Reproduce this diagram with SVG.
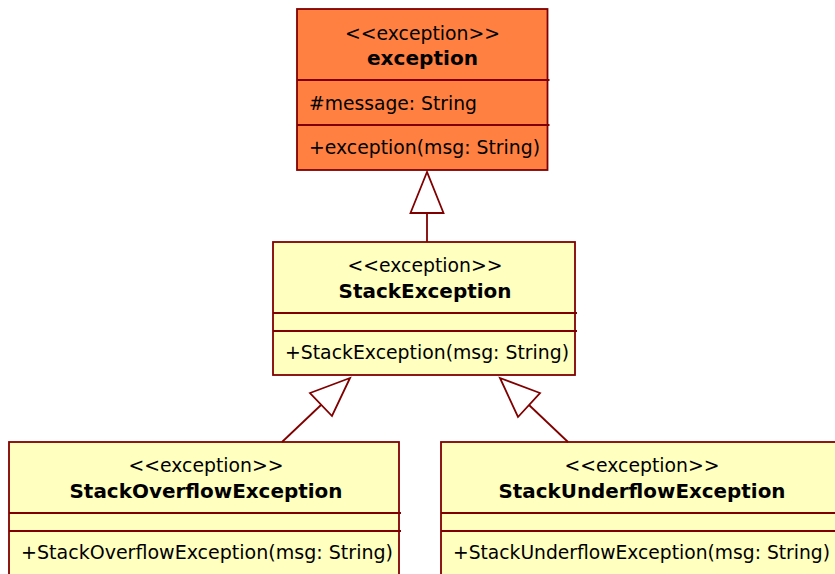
<svg xmlns="http://www.w3.org/2000/svg" width="835" height="574" viewBox="0 0 835 574">
<style>
.box{stroke:#800000;stroke-width:1.8}
.org{fill:#FF8040}
.yel{fill:#FFFFC0}
.sep{stroke:#800000;stroke-width:1.8}
text{font-family:"DejaVu Sans",Verdana,sans-serif;font-size:19.5px;fill:#000}
.c{text-anchor:middle}
.b{font-weight:bold}
.conn line{stroke:#800000;stroke-width:1.8}
.conn polygon{fill:#fff;stroke:#800000;stroke-width:1.8}
</style>
<rect width="835" height="574" fill="#fff"/>
<g id="exception">
<rect class="box org" x="297" y="9" width="250.5" height="161"/>
<line class="sep" x1="297" y1="80" x2="549.5" y2="80"/>
<line class="sep" x1="297" y1="125" x2="549.5" y2="125"/>
<text class="c" x="422.5" y="40" textLength="155" lengthAdjust="spacingAndGlyphs">&lt;&lt;exception&gt;&gt;</text>
<text class="c b" x="422.5" y="65" textLength="111" lengthAdjust="spacingAndGlyphs">exception</text>
<text x="309" y="110" textLength="168" lengthAdjust="spacingAndGlyphs">#message: String</text>
<text x="309" y="154" textLength="231" lengthAdjust="spacingAndGlyphs">+exception(msg: String)</text>
</g>
<g id="StackException">
<rect class="box yel" x="273" y="242" width="302" height="133"/>
<line class="sep" x1="273" y1="313" x2="577" y2="313"/>
<line class="sep" x1="273" y1="331" x2="577" y2="331"/>
<text class="c" x="425" y="272" textLength="155" lengthAdjust="spacingAndGlyphs">&lt;&lt;exception&gt;&gt;</text>
<text class="c b" x="425" y="298" textLength="173" lengthAdjust="spacingAndGlyphs">StackException</text>
<text x="285" y="359" textLength="284" lengthAdjust="spacingAndGlyphs">+StackException(msg: String)</text>
</g>
<g id="StackOverflowException">
<rect class="box yel" x="9" y="442" width="390" height="140"/>
<line class="sep" x1="9" y1="513" x2="401" y2="513"/>
<line class="sep" x1="9" y1="531" x2="401" y2="531"/>
<text class="c" x="206" y="472" textLength="155" lengthAdjust="spacingAndGlyphs">&lt;&lt;exception&gt;&gt;</text>
<text class="c b" x="206" y="498" textLength="273" lengthAdjust="spacingAndGlyphs">StackOverflowException</text>
<text x="21" y="559" textLength="372" lengthAdjust="spacingAndGlyphs">+StackOverflowException(msg: String)</text>
</g>
<g id="StackUnderflowException">
<rect class="box yel" x="441" y="442" width="402" height="140"/>
<line class="sep" x1="441" y1="513" x2="845" y2="513"/>
<line class="sep" x1="441" y1="531" x2="845" y2="531"/>
<text class="c" x="642" y="472" textLength="155" lengthAdjust="spacingAndGlyphs">&lt;&lt;exception&gt;&gt;</text>
<text class="c b" x="642" y="498" textLength="287" lengthAdjust="spacingAndGlyphs">StackUnderflowException</text>
<text x="453" y="559" textLength="377" lengthAdjust="spacingAndGlyphs">+StackUnderflowException(msg: String)</text>
</g>
<g id="connectors" class="conn">
<line x1="427" y1="242" x2="427" y2="213"/>
<polygon points="427,172 410.5,213 443.5,213"/>
<line x1="282" y1="442" x2="321" y2="405"/>
<polygon points="350,378 310,393 332,416"/>
<line x1="568" y1="442" x2="529" y2="405"/>
<polygon points="500,378 540,393 518,417"/>
</g>
</svg>
